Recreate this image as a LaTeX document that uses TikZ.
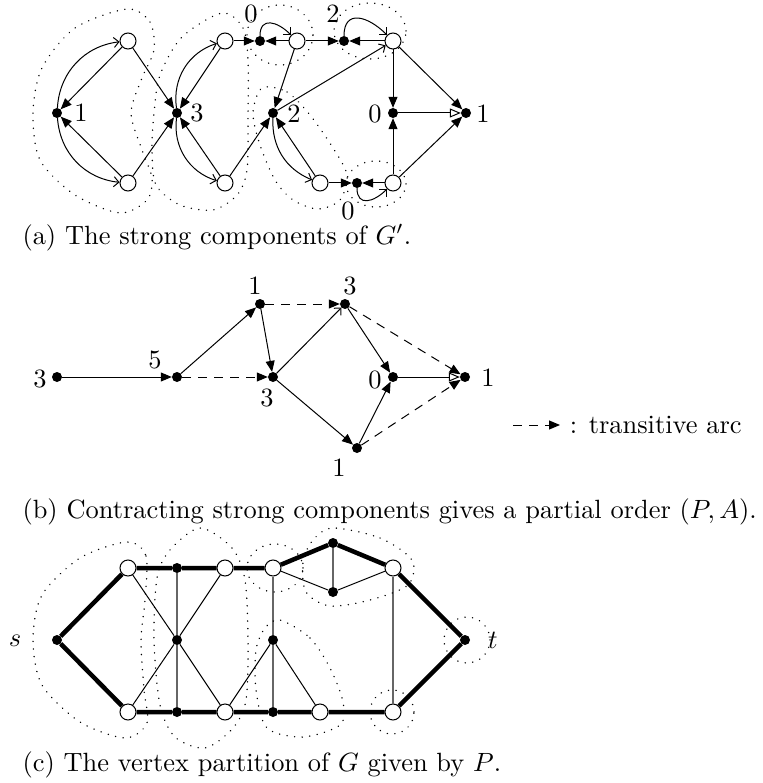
\documentclass[tikz,border=0pt]{standalone}
\usepackage{tikz}
\usetikzlibrary{arrows.meta}

\begin{document}
\begin{tikzpicture}[
  x=1pt, y=1pt,
  bdot/.style={circle, fill, inner sep=0pt, minimum size=10pt},
  odot/.style={circle, draw, fill=white, line width=1pt, inner sep=0pt, minimum size=16pt},
  lbl/.style={inner sep=0pt, scale=2.64},
  arr/.style={-{Triangle[length=11pt,width=9pt]}, line width=1pt},
  barb/.style={-{Straight Barb[length=5pt,width=10pt]}, line width=1pt},
  oarr/.style={-{Triangle[open,length=11pt,width=9pt]}, line width=1pt},
  tarr/.style={arr, dash pattern=on 9pt off 7pt},
  blob/.style={line width=1.5pt, dash pattern=on 0.1pt off 7.5pt, line cap=round},
  heavy/.style={line width=4.5pt},
  thin/.style={line width=1pt},
  grey/.style={line width=1.4pt, black!60},
]
\useasboundingbox (0,0) rectangle (762,-783);

% (a) strong components
\node[bdot] (a1) at (57,-113) {};
\node[odot] (aA1) at (128,-41) {};
\node[odot] (aB1) at (128,-183) {};
\node[bdot] (a3) at (177,-113) {};
\node[odot] (aA2) at (225,-41) {};
\node[odot] (aB2) at (225,-183) {};
\node[bdot] (a0t) at (260,-41) {};
\node[odot] (aA3) at (297,-41) {};
\node[bdot] (a2t) at (344,-41) {};
\node[odot] (aA4) at (393,-41) {};
\node[bdot] (a2m) at (273,-113) {};
\node[bdot] (a0m) at (393,-113) {};
\node[bdot] (a1r) at (466,-113) {};
\node[odot] (aB3) at (320,-183) {};
\node[bdot] (a0b) at (357,-183) {};
\node[odot] (aB4) at (393,-183) {};

\node[lbl] (la1) at (81,-113) {1};
\node[lbl] (la3) at (197,-113) {3};
\node[lbl] (la0t) at (251,-14) {0};
\node[lbl] (la2t) at (333,-14) {2};
\node[lbl] (la2m) at (294,-114) {2};
\node[lbl] (la0m) at (375,-114) {0};
\node[lbl] (la1r) at (483,-114) {1};
\node[lbl] (la0b) at (348,-211) {0};

\draw[barb] (a1) to[bend left=40] (aA1);
\draw[barb] (a1) to[bend right=40] (aB1);
\draw[arr] (aA1) -- (a1);
\draw[arr] (aB1) -- (a1);
\draw[arr] (aA1) -- (a3);
\draw[arr] (aB1) -- (a3);
\draw[barb] (a3) to[bend left=40] (aA2);
\draw[barb] (a3) to[bend right=40] (aB2);
\draw[arr] (aA2) -- (a3);
\draw[arr] (aB2) -- (a3);
\draw[arr] (aA2) -- (a0t);
\draw[arr] (aB2) -- (a2m);
\draw[arr] (aA3) -- (a0t);
\draw[barb] (a0t) to[out=90,in=135,looseness=1.6] (aA3);
\draw[arr] (aA3) -- (a2t);
\draw[arr] (aA3) -- (a2m);
\draw[arr] (aA4) -- (a2t);
\draw[barb] (a2t) to[out=90,in=135,looseness=1.6] (aA4);
\draw[barb] (a2m) -- (aA4);
\draw[arr] (aA4) -- (a0m);
\draw[arr] (aA4) -- (a1r);
\draw[oarr] (a0m) -- (a1r);
\draw[arr] (aB4) -- (a0m);
\draw[arr] (aB4) -- (a1r);
\draw[arr] (aB4) -- (a0b);
\draw[barb] (a0b) to[out=-90,in=-135,looseness=1.6] (aB4);
\draw[arr] (aB3) -- (a0b);
\draw[arr] (aB3) -- (a2m);
\draw[barb] (a2m) to[bend right=35] (aB3);

\draw[blob] plot[smooth cycle] coordinates {(127,-9) (150,-22) (154,-50) (142,-78) (131,-113)
  (142,-150) (152,-178) (147,-200) (120,-213) (75,-195) (40,-160) (33,-113) (42,-68) (75,-28)};
\draw[blob] plot[smooth cycle] coordinates {(222,-13) (243,-28) (248,-60) (248,-113) (247,-170)
  (237,-195) (213,-210) (180,-205) (156,-185) (152,-150) (154,-113) (160,-75) (182,-37)};
\draw[blob] (280,-35) ellipse[x radius=33, y radius=30];
\draw[blob] (370,-31) ellipse[x radius=36, y radius=28];
\draw[blob] plot[smooth cycle] coordinates {(262,-88) (287,-92) (310,-115) (333,-148) (347,-175)
  (340,-200) (318,-209) (293,-200) (275,-180) (260,-145) (253,-113)};
\draw[blob] (376,-184) ellipse[x radius=30, y radius=23];

\node[lbl, anchor=base west] (capa) at (22,-244) {(a) The strong components of $G'$.};

% (b) partial order
\node[bdot] (b3) at (57,-377) {};
\node[bdot] (b5) at (177,-377) {};
\node[bdot] (b1t) at (260,-304) {};
\node[bdot] (b3t) at (345,-304) {};
\node[bdot] (b3m) at (273,-377) {};
\node[bdot] (b0) at (393,-377) {};
\node[bdot] (b1r) at (465,-377) {};
\node[bdot] (b1b) at (357,-448) {};

\node[lbl] (lb3) at (40,-379) {3};
\node[lbl] (lb5) at (155,-360) {5};
\node[lbl] (lb1t) at (255,-286) {1};
\node[lbl] (lb3t) at (350,-286) {3};
\node[lbl] (lb3m) at (267,-398) {3};
\node[lbl] (lb0) at (375,-380) {0};
\node[lbl] (lb1r) at (488,-378) {1};
\node[lbl] (lb1b) at (339,-468) {1};

\draw[arr] (b3) -- (b5);
\draw[tarr] (b5) -- (b3m);
\draw[arr] (b5) -- (b1t);
\draw[tarr] (b1t) -- (b3t);
\draw[arr] (b1t) -- (b3m);
\draw[barb] (b3m) -- (b3t);
\draw[arr] (b3t) -- (b0);
\draw[tarr] (b3t) -- (b1r);
\draw[oarr] (b0) -- (b1r);
\draw[arr] (b3m) -- (b1b);
\draw[arr] (b1b) -- (b0);
\draw[tarr] (b1b) -- (b1r);

\coordinate (key) at (513,-425);
\node[lbl, anchor=west, inner xsep=3.5pt] (keytxt) at (560,-425) {: transitive arc};
\draw[tarr] (key) -- (keytxt);

\node[lbl, anchor=base west] (capb) at (22,-518) {(b) Contracting strong components gives a partial order $(P,A)$.};

% (c) vertex partition
\node[bdot] (cs) at (57,-640) {};
\node[bdot] (ct) at (465,-640) {};
\node[odot] (ca1) at (128,-568) {};
\node[odot] (cb1) at (128,-712) {};
\node[bdot] (ca2) at (177,-568) {};
\node[bdot] (cm2) at (177,-640) {};
\node[bdot] (cb2) at (177,-712) {};
\node[odot] (ca3) at (225,-568) {};
\node[odot] (cb3) at (225,-712) {};
\node[odot] (ca4) at (273,-568) {};
\node[bdot] (cm4) at (273,-640) {};
\node[bdot] (cb4) at (273,-712) {};
\node[odot] (cb5) at (320,-712) {};
\node[bdot] (cp) at (333,-543) {};
\node[bdot] (cq) at (333,-592) {};
\node[odot] (ca6) at (393,-568) {};
\node[odot] (cb6) at (393,-712) {};

\node[lbl] (ls) at (15,-641) {$s$};
\node[lbl] (lt) at (493,-640) {$t$};

\draw[heavy] (cs) -- (ca1) -- (ca2) -- (ca3) -- (ca4) -- (cp) -- (ca6) -- (ct);
\draw[heavy] (cs) -- (cb1) -- (cb2) -- (cb3) -- (cb4) -- (cb5) -- (cb6) -- (ct);
\draw[thin] (ca1) -- (cm2) -- (cb3);
\draw[thin] (cb1) -- (cm2) -- (ca3);
\draw[thin] (cb3) -- (cm4) -- (cb5);
\draw[thin] (ca4) -- (cq) -- (ca6);
\draw[grey] (ca2) -- (cm2) -- (cb2);
\draw[grey] (ca4) -- (cm4) -- (cb4);
\draw[grey] (cp) -- (cq);
\draw[grey] (ca6) -- (cb6);

\draw[blob] plot[smooth cycle] coordinates {(127,-542) (146,-556) (145,-600) (141,-640) (144,-690)
  (147,-723) (125,-738) (80,-722) (42,-685) (33,-640) (42,-595) (80,-558)};
\draw[blob] plot[smooth cycle] coordinates {(200,-528) (232,-548) (245,-580) (248,-640) (246,-700)
  (233,-728) (205,-748) (175,-737) (160,-705) (154,-640) (157,-578) (170,-550)};
\draw[blob] (275,-568) ellipse[x radius=28, y radius=24];
\draw[blob] plot[smooth cycle] coordinates {(333,-528) (380,-538) (412,-560) (408,-585) (370,-600)
  (330,-606) (306,-592) (303,-562) (313,-540)};
\draw[blob] plot[smooth cycle] coordinates {(280,-620) (310,-638) (330,-668) (343,-702) (340,-725)
  (303,-737) (267,-728) (256,-690) (256,-650) (265,-628)};
\draw[blob] (392,-712) ellipse[x radius=22, y radius=22];
\draw[blob] (467,-640) ellipse[x radius=23, y radius=23];

\node[lbl, anchor=base west] (capc) at (22,-771) {(c) The vertex partition of $G$ given by $P$.};
\end{tikzpicture}
\end{document}
